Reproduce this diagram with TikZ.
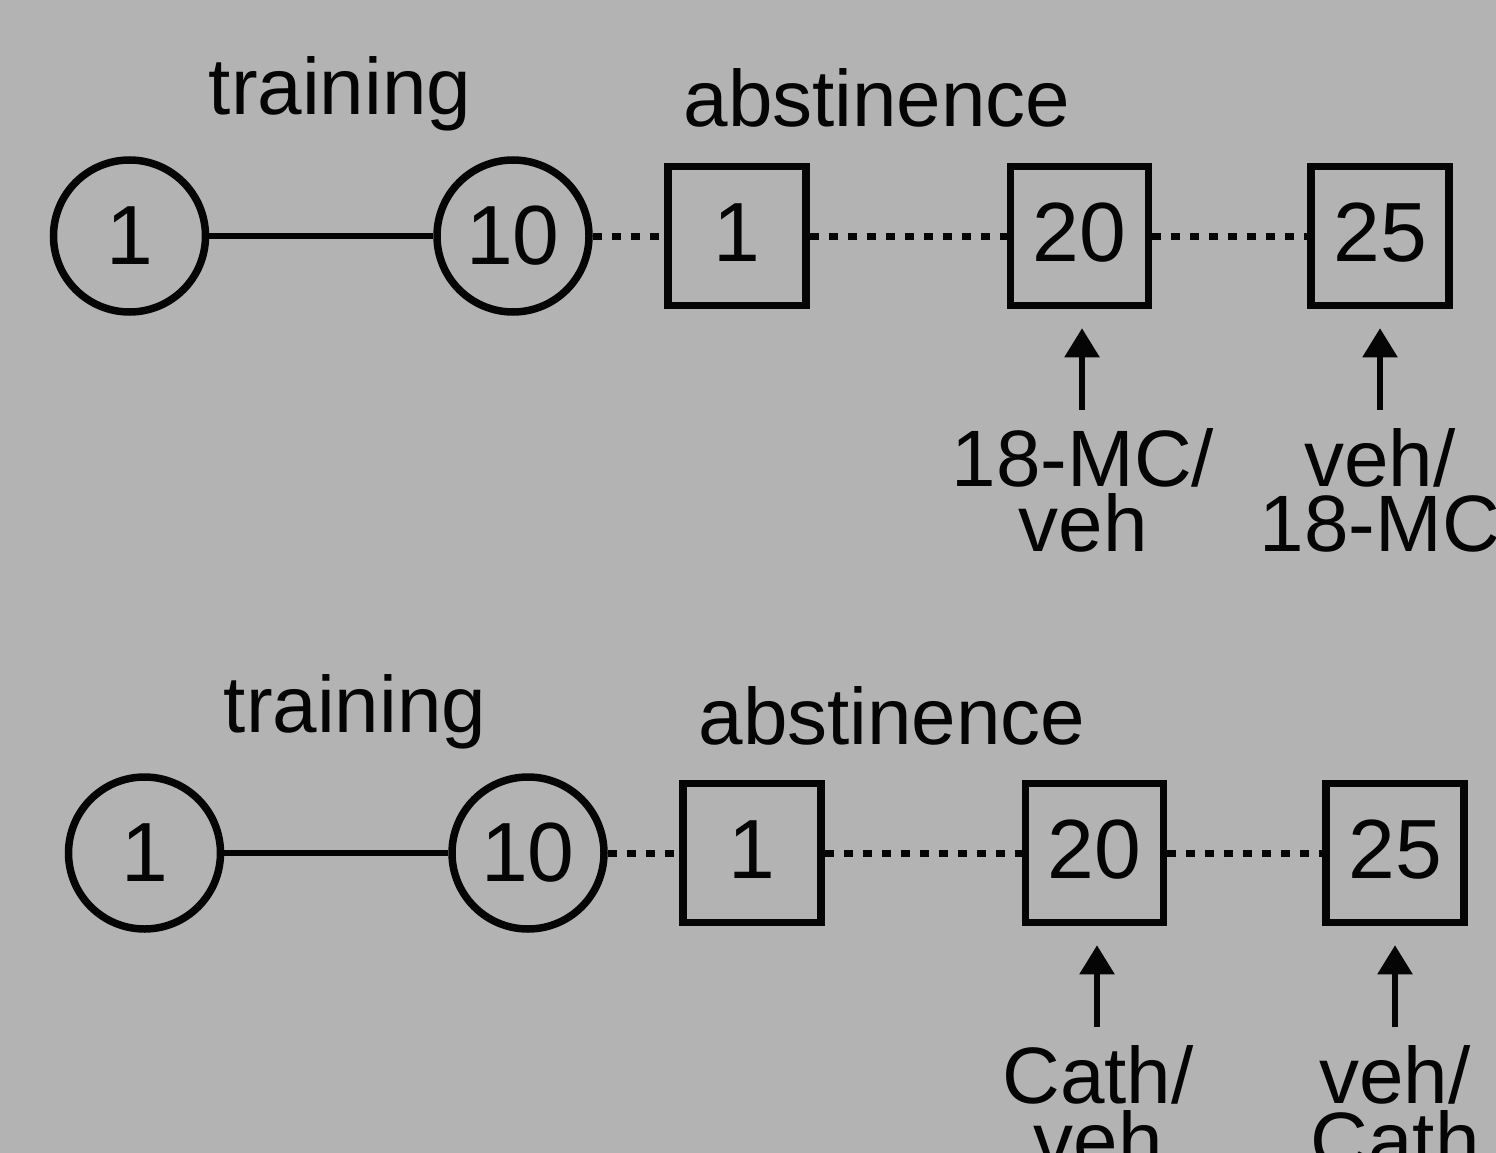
\documentclass[tikz,border=0pt]{standalone}
\usepackage{fontspec}
\setmainfont{Liberation Sans}
\usetikzlibrary{arrows.meta,calc}
\definecolor{bg}{HTML}{B3B3B3}
\definecolor{ink}{HTML}{050505}
\tikzset{
  day/.style={draw=ink, line width=7.5pt, inner sep=0pt, text=ink,
    font=\fontsize{84}{84}\selectfont, text height=60pt, text depth=4pt},
  trainday/.style={day, circle, minimum size=152pt},
  absday/.style={day, rectangle, minimum width=138pt, minimum height=139pt, text depth=10pt},
  solidlink/.style={draw=ink, line width=6pt},
  dotlink/.style={draw=ink, line width=7pt, dash pattern=on 9pt off 10pt},
  inject/.style={draw=ink, line width=5.5pt, -{Triangle[width=34pt,length=29pt]}, shorten >=19pt},
  phase/.style={font=\fontsize{80}{80}\selectfont, text=ink, anchor=base, inner sep=0pt},
  drug/.style={font=\fontsize{80}{65}\selectfont, text=ink, anchor=base, align=center, inner sep=0pt},
}
\newcommand\timelinerow[6]{%
  \begin{scope}[shift={(#2,#3)}]
    \node[phase] (#1train) at (340,115) {training};
    \node[phase] (#1abst) at (877,127) {abstinence};
    \node[trainday] (#1c1) at (129.5,236) {1};
    \node[trainday] (#1c10) at (513,236) {10};
    \node[absday] (#1s1) at (737,236) {1};
    \node[absday] (#1s20) at (1079.5,236) {20};
    \node[absday] (#1s25) at (1380,236) {25};
    \draw[solidlink] (#1c1) -- (#1c10);
    \draw[dotlink] (#1c10) -- (#1s1);
    \draw[dotlink] (#1s1) -- (#1s20);
    \draw[dotlink] (#1s20) -- (#1s25);
    \coordinate (#1a20) at (1082,410);
    \coordinate (#1a25) at (1380,410);
    \draw[inject] (#1a20) -- (#1a20 |- #1s20.south);
    \draw[inject] (#1a25) -- (#1a25 |- #1s25.south);
    \node[drug] (#1l20) at (1083,551) {#4};
    \node[drug] (#1l25) at (1380,551) {#5};
  \end{scope}}
\begin{document}
\begin{tikzpicture}[x=1pt,y=-1pt]
  \useasboundingbox (0,0) rectangle (1496,1153);
  \clip (0,0) rectangle (1496,1153);
  \fill[bg] (0,0) rectangle (1496,1153);
  \timelinerow{t}{0}{0}{18-MC/\\veh}{veh/\\18-MC}{}
  \timelinerow{b}{15}{617}{Cath/\\veh}{veh/\\Cath}{}
\end{tikzpicture}
\end{document}
